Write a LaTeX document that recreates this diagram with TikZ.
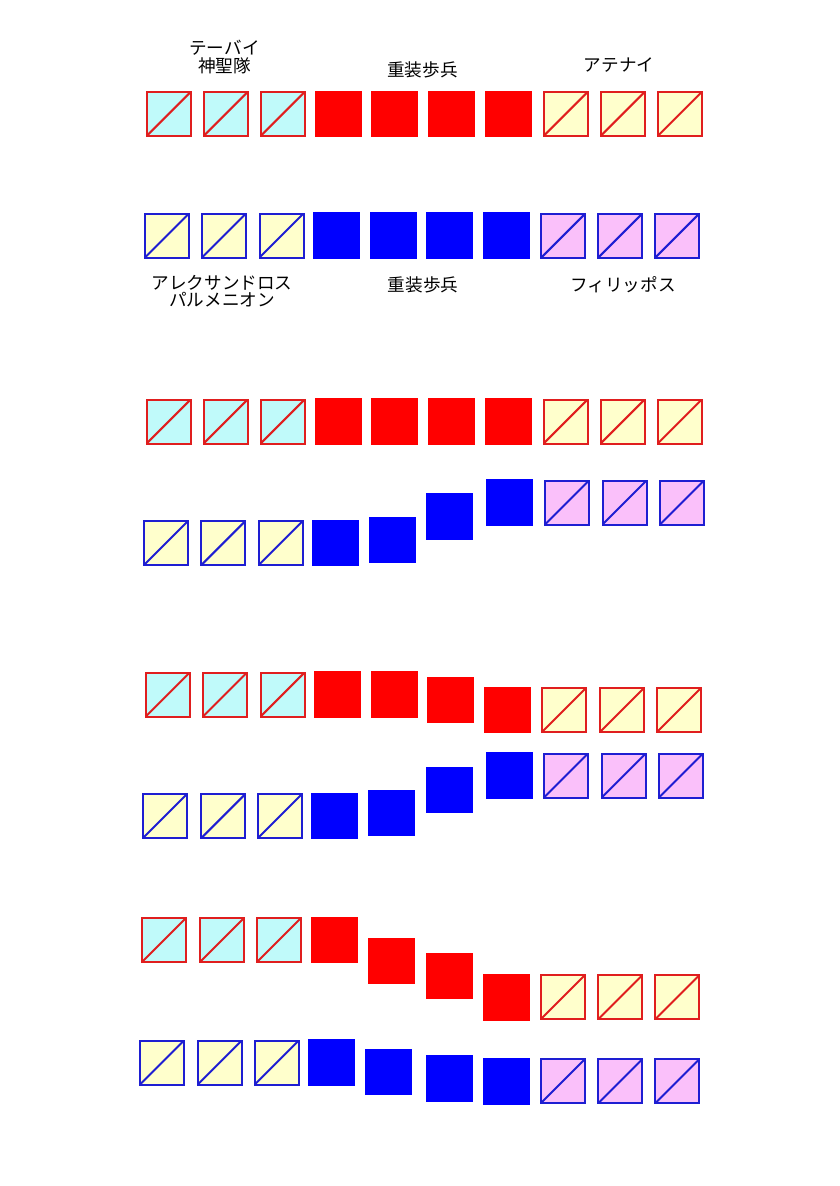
\documentclass[tikz,border=0pt]{standalone}
\usepackage{fontspec}
\setmainfont{Noto Sans CJK JP}

\definecolor{redline}{HTML}{E01E1E}
\definecolor{blueline}{HTML}{1E1ED2}
\definecolor{wingcyan}{HTML}{C0FAFA}
\definecolor{wingyellow}{HTML}{FFFFCC}
\definecolor{wingpink}{HTML}{FAC0FA}

\begin{document}
\begin{tikzpicture}[
    x=1pt, y=-1pt,
    wing/.style 2 args={rectangle, draw=#1, fill=#2, line width=2pt, inner sep=0pt, minimum size=44pt,
        path picture={\draw[#1, line width=2pt] (path picture bounding box.south west) -- (path picture bounding box.north east);}},
    phalanx/.style={rectangle, fill=#1, inner sep=0pt, minimum width=47pt, minimum height=46.5pt},
    redL/.style={wing={redline}{wingcyan}},
    redC/.style={phalanx=red},
    redR/.style={wing={redline}{wingyellow}},
    blueL/.style={wing={blueline}{wingyellow}},
    blueC/.style={phalanx=blue},
    blueR/.style={wing={blueline}{wingpink}},
    label/.style={font=\fontsize{17.6}{17.5}\selectfont, align=center, inner sep=0pt}
]
\useasboundingbox (0,0) rectangle (839,1186);

% first phase: both lines drawn up
\foreach \x/\y/\k [count=\n] in {168.6/114/L, 225.6/114/L, 282.6/114/L, 338/114/C, 394.5/114/C, 451.5/114/C, 508.6/114/C, 565.6/114/R, 622.6/114/R, 679.7/114/R}
    \node[red\k] (r1-\n) at (\x,\y) {};
\foreach \x/\y/\k [count=\n] in {167/235.5/L, 224/235.5/L, 281.5/235.5/L, 336/235.5/C, 393/235.5/C, 449.5/235.5/C, 506/235.5/C, 563.4/235.5/R, 620.4/235.5/R, 677.4/235.5/R}
    \node[blue\k] (b1-\n) at (\x,\y) {};

\node[label] (thebes) at (224.5,57) {テーバイ\\神聖隊};
\node[label] (hopliteT) at (422.5,70) {重装歩兵};
\node[label] (athens) at (619,65) {アテナイ};
\node[label] (alexander) at (222,291) {アレクサンドロス\\パルメニオン};
\node[label] (hopliteB) at (423,285) {重装歩兵};
\node[label] (philip) at (623,285) {フィリッポス};

% second phase
\foreach \x/\y/\k [count=\n] in {168.6/421.5/L, 225.6/421.5/L, 282.6/421.5/L, 338/421.5/C, 394.5/421.5/C, 451.5/421.5/C, 508.6/421.5/C, 565.6/421.5/R, 622.6/421.5/R, 679.7/421.5/R}
    \node[red\k] (r2-\n) at (\x,\y) {};
\foreach \x/\y/\k [count=\n] in {166/543/L, 223.4/543/L, 280.8/543/L, 335.5/543/C, 392.5/540/C, 449.5/516.5/C, 509.7/502.5/C, 567/502.5/R, 624.5/502.5/R, 682/502.5/R}
    \node[blue\k] (b2-\n) at (\x,\y) {};

% third phase
\foreach \x/\y/\k [count=\n] in {167.8/694.5/L, 225/694.5/L, 282.6/694.5/L, 337.5/694.5/C, 394/694.5/C, 450.6/700/C, 507.6/710/C, 564/710/R, 622/710/R, 679/710/R}
    \node[red\k] (r3-\n) at (\x,\y) {};
\foreach \x/\y/\k [count=\n] in {165/816/L, 223.4/816/L, 280/816/L, 334.8/816/C, 391.4/813/C, 449/790/C, 509/775.5/C, 566/775.5/R, 623.7/775.5/R, 681/775.5/R}
    \node[blue\k] (b3-\n) at (\x,\y) {};

% fourth phase
\foreach \x/\y/\k [count=\n] in {164/940/L, 222/940/L, 279/940/L, 334/940/C, 391/961/C, 449/976/C, 506/997.5/C, 563/997/R, 620.4/997/R, 677.4/997/R}
    \node[red\k] (r4-\n) at (\x,\y) {};
\foreach \x/\y/\k [count=\n] in {162/1062.5/L, 219.7/1062.5/L, 276.7/1062.5/L, 331/1062.5/C, 388/1072/C, 449.3/1078.5/C, 506/1081.5/C, 563/1081/R, 620.4/1081/R, 677.4/1081/R}
    \node[blue\k] (b4-\n) at (\x,\y) {};

\end{tikzpicture}
\end{document}
